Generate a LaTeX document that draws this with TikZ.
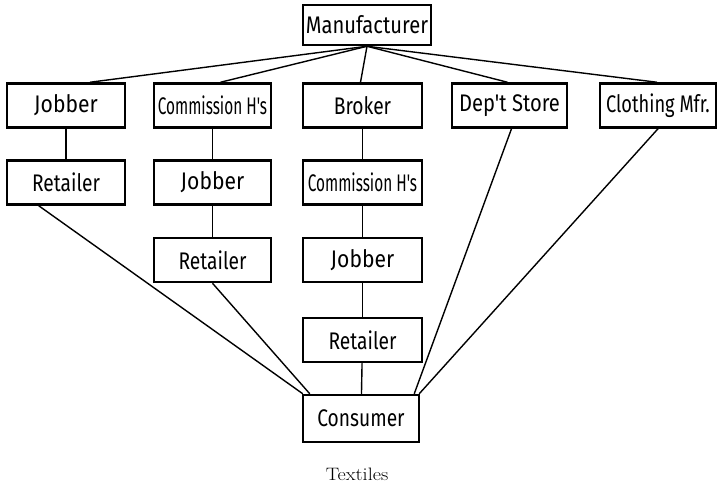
\documentclass[tikz,border=0pt]{standalone}
\usepackage{fontspec}
\newfontfamily\letterfont[FakeStretch=0.8]{Fira Sans}
\begin{document}
\begin{tikzpicture}[x=1pt,y=-1pt,
  box/.style={draw, line width=2.5pt, inner sep=0pt, minimum width=#1,
    minimum height=44pt, font=\letterfont\fontsize{24}{28}\selectfont},
  box/.default=117pt,
  link/.style={line width=1.4pt},
  caption/.style={font=\fontsize{18}{21}\selectfont, inner sep=0pt}]
\useasboundingbox[fill=white] (0,0) rectangle (720,488);

% top of the chain
\node[box=128pt, minimum height=40pt] (man) at (367,25) {\scalebox{1.05}[1]{Manufacturer}};

% first tier
\node[box=118pt] (jb1) at (66,105.5) {\scalebox{1.1}[1]{Jobber}};
\node[box] (ch2) at (212.5,105.5) {\scalebox{0.8}[1]{Commission H's}};
\node[box=119pt] (brk) at (362.5,105.5) {Broker};
\node[box=115pt] (dept) at (509.5,105.5) {\scalebox{1.05}[1]{Dep't Store}};
\node[box=116pt] (cloth) at (658,105.5) {\scalebox{0.95}[1]{Clothing Mfr.}};

% second tier
\node[box=118pt] (ret1) at (66,182.5) {Retailer};
\node[box] (jb2) at (212.5,182.5) {\scalebox{1.1}[1]{Jobber}};
\node[box=119pt] (ch3) at (362.5,182.5) {\scalebox{0.8}[1]{Commission H's}};

% third tier
\node[box] (ret2) at (212.5,260) {Retailer};
\node[box=119pt] (jb3) at (362.5,260) {\scalebox{1.1}[1]{Jobber}};

% fourth tier
\node[box=119pt] (ret3) at (362.5,340) {Retailer};

% bottom of the chain
\node[box=116pt, minimum height=47pt] (con) at (361,418.5) {Consumer};

\node[caption] (cap) at (357,474) {\scalebox{1.12}[1]{Textiles}};

% manufacturer to first tier
\draw[link] (man.south) -- ([xshift=24pt]jb1.north);
\draw[link] (man.south) -- ([xshift=8pt]ch2.north);
\draw[link] (man.south) -- ([xshift=-2pt]brk.north);
\draw[link] (man.south) -- ([xshift=-2pt]dept.north);
\draw[link] (man.south) -- ([xshift=-1pt]cloth.north);

% vertical chains
\draw[link] (jb1) -- (ret1);
\draw[link] (ch2) -- (jb2);
\draw[link] (jb2) -- (ret2);
\draw[link] (brk) -- (ch3);
\draw[link] (ch3) -- (jb3);
\draw[link] (jb3) -- (ret3);
\draw[link] (ret3) -- (con);

% converging lines into the consumer
\draw[link] ([xshift=33pt]ret1.south west) -- ([xshift=1pt]con.north west);
\draw[link] (ret2.south) -- ([xshift=8pt]con.north west);
\draw[link] ([xshift=2pt]dept.south) -- ([xshift=-6pt]con.north east);
\draw[link] (cloth.south) -- ([xshift=-1pt]con.north east);
\end{tikzpicture}
\end{document}
